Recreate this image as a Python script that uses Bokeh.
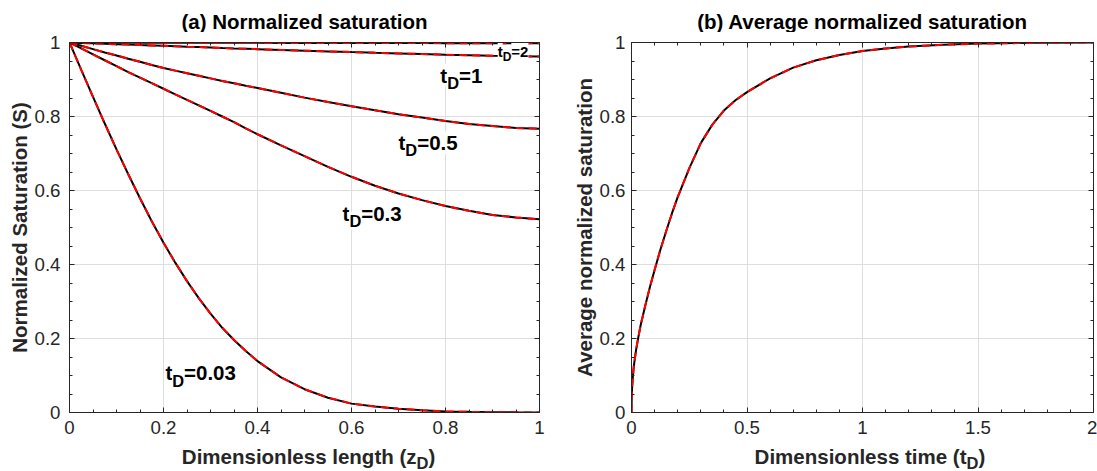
import numpy as np
from bokeh.plotting import figure
from bokeh.models import Label, LinearAxis, FixedTicker, NumeralTickFormatter, Range1d, CustomJSTickFormatter
from bokeh.layouts import row, column
from bokeh.embed import file_html
from bokeh.resources import INLINE

# ---------------- data ----------------
zD = [0.0, 0.025, 0.05, 0.075, 0.1, 0.125, 0.15, 0.175, 0.2, 0.225, 0.25, 0.275, 0.3,
      0.325, 0.35, 0.375, 0.4, 0.45, 0.5, 0.55, 0.6, 0.65, 0.7, 0.75, 0.8, 0.85, 0.9, 0.95, 1.0]
S_t003 = [1.0, 0.926, 0.853, 0.781, 0.711, 0.644, 0.579, 0.517, 0.459, 0.405, 0.355, 0.309, 0.267,
          0.229, 0.196, 0.166, 0.139, 0.095, 0.063, 0.040, 0.024, 0.016, 0.010, 0.006, 0.003, 0.0017,
          0.0009, 0.0004, 0.0002]
S_t03 = [1.0, 0.984, 0.968, 0.952, 0.936, 0.920, 0.905, 0.890, 0.875, 0.860, 0.845, 0.830, 0.815,
         0.800, 0.785, 0.768, 0.752, 0.722, 0.693, 0.664, 0.637, 0.613, 0.592, 0.574, 0.558, 0.545,
         0.534, 0.527, 0.522]
S_t05 = [1.0, 0.991, 0.982, 0.973, 0.965, 0.956, 0.948, 0.939, 0.931, 0.924, 0.917, 0.910, 0.903,
         0.896, 0.89, 0.883, 0.877, 0.864, 0.851, 0.839, 0.828, 0.817, 0.806, 0.797, 0.788, 0.780,
         0.774, 0.769, 0.767]
S_t1 = [1.0, 0.9988, 0.9977, 0.9966, 0.9955, 0.9943, 0.993, 0.992, 0.991, 0.990, 0.9887, 0.9876,
        0.9865, 0.9852, 0.984, 0.983, 0.982, 0.980, 0.978, 0.976, 0.974, 0.9722, 0.9705, 0.9688,
        0.967, 0.9655, 0.964, 0.963, 0.962]
S_t2 = [1.0, 0.99995, 0.9999, 0.99985, 0.9998, 0.9997, 0.9996, 0.99955, 0.9995, 0.99945, 0.9994,
        0.99935, 0.9993, 0.9992, 0.9991, 0.99905, 0.999, 0.9989, 0.9988, 0.9987, 0.9986, 0.9985,
        0.9984, 0.9984, 0.9983, 0.9983, 0.9982, 0.9982, 0.9982]

tD = [0.0, 0.001, 0.0025, 0.005, 0.01, 0.02, 0.03, 0.04, 0.06, 0.08, 0.1, 0.125, 0.15, 0.175,
      0.2, 0.25, 0.3, 0.35, 0.4, 0.45, 0.5, 0.6, 0.7, 0.8, 0.9, 1.0, 1.1, 1.2, 1.35, 1.5, 1.75, 2.0]
S_avg = [0.0, 0.04, 0.065, 0.09, 0.125, 0.17, 0.205, 0.237, 0.29, 0.34, 0.385, 0.44, 0.49, 0.538,
         0.582, 0.66, 0.728, 0.778, 0.816, 0.844, 0.866, 0.903, 0.932, 0.952, 0.966, 0.977, 0.984,
         0.989, 0.994, 0.997, 0.999, 1.0]

curve_labels = ["0.03", "0.3", "0.5", "1", "2"]

x1_ticks = [0, 0.2, 0.4, 0.6, 0.8, 1.0]
y_ticks = [0, 0.2, 0.4, 0.6, 0.8, 1.0]
x2_ticks = [0, 0.5, 1.0, 1.5, 2.0]

FONT = "Liberation Sans"
AX = "#262626"
TICK_FS = "18.7px"
LAB_FS = 20.5

W_BOLD = {"t": 0.333, "D": 0.722, ")": 0.333}


def style_axes(p, xt, xminor, yt, yminor, xstand, ystand):
    fmt = NumeralTickFormatter(format="0.[0]")
    bottom = p.xaxis[0]
    left = p.yaxis[0]
    bottom.ticker = FixedTicker(ticks=xt, minor_ticks=xminor)
    left.ticker = FixedTicker(ticks=yt, minor_ticks=yminor)
    bottom.formatter = fmt
    left.formatter = fmt
    blank = CustomJSTickFormatter(code="return '';")
    top = LinearAxis(ticker=FixedTicker(ticks=xt, minor_ticks=xminor), formatter=blank)
    right = LinearAxis(ticker=FixedTicker(ticks=yt, minor_ticks=yminor), formatter=blank)
    p.add_layout(top, "above")
    p.add_layout(right, "right")
    for ax in [bottom, left, top, right]:
        ax.axis_line_color = AX
        ax.axis_line_width = 1
        ax.major_tick_line_color = AX
        ax.minor_tick_line_color = AX
        ax.major_tick_in = 5
        ax.major_tick_out = 0
        ax.minor_tick_in = 3
        ax.minor_tick_out = 0
        ax.major_label_text_font = FONT
        ax.major_label_text_font_size = TICK_FS
        ax.major_label_text_color = AX
    bottom.major_label_standoff = xstand
    left.major_label_standoff = ystand
    for ax in [top, right]:
        ax.major_label_text_font_size = "1px"
        ax.major_label_standoff = 0
        ax.axis_label_standoff = 0
    p.xgrid.ticker = FixedTicker(ticks=xt)
    p.ygrid.ticker = FixedTicker(ticks=yt)
    p.xgrid.grid_line_color = "#dedede"
    p.ygrid.grid_line_color = "#dedede"
    p.outline_line_color = None
    return bottom, left


def lab(p, x, y, text, size, align="left", x_offset=0, bg=None, color="#000000"):
    p.add_layout(Label(x=x, y=y, text=text, text_font=FONT, text_font_size=f"{size}px",
                       text_font_style="bold", text_align=align,
                       text_baseline="middle", x_offset=x_offset,
                       text_color=color, background_fill_color=bg))


def sub_label(p, x, y, pre, sub, post, size, sub_size, fy, bg=None, color="#000000"):
    w_pre = sum(W_BOLD.get(c, 0.556) for c in pre) * size
    w_sub = sum(W_BOLD.get(c, 0.556) for c in sub) * sub_size
    lab(p, x, y, pre, size, x_offset=0, bg=bg, color=color)
    lab(p, x, y - 0.38 * size * fy, sub, sub_size, x_offset=w_pre, bg=bg, color=color)
    lab(p, x, y, post, size, x_offset=w_pre + w_sub, bg=bg, color=color)


def set_ylabel(ax, text, standoff):
    ax.axis_label = text
    ax.axis_label_text_font = FONT
    ax.axis_label_text_font_size = f"{LAB_FS}px"
    ax.axis_label_text_font_style = "bold"
    ax.axis_label_text_color = AX
    ax.axis_label_standoff = standoff


def strip(width, height):
    q = figure(width=width, height=height, x_range=Range1d(0, width), y_range=Range1d(0, height),
               x_axis_type=None, y_axis_type=None, min_border=0, output_backend="svg",
               toolbar_location=None)
    q.outline_line_color = None
    q.grid.visible = False
    return q


def xlabel_strip(width, height, anchor, pre, sub, post):
    q = strip(width, height)
    w_sub = sum(W_BOLD.get(c, 0.556) for c in sub) * 16.5
    lab(q, anchor, 15.5, pre, LAB_FS, align="right", color=AX)
    lab(q, anchor, 8.5, sub, 16.5, color=AX)
    lab(q, anchor + w_sub, 15.5, post, LAB_FS, color=AX)
    return q


def title_strip(width, height, cx, text):
    q = strip(width, height)
    lab(q, cx, 11.5, text, LAB_FS, align="center", color="#000000")
    return q


H_TOP, H_MAIN, H_LAB = 32, 409, 30

# ---------------- panel (a) ----------------
p1 = figure(width=556, height=H_MAIN, x_range=Range1d(0, 1), y_range=Range1d(0, 1),
            output_backend="svg", toolbar_location=None, title=None,
            min_border_left=69, min_border_right=17, min_border_top=3, min_border_bottom=29)
b1, l1 = style_axes(p1, x1_ticks, [i * 0.05 for i in range(21)], y_ticks,
                    [i * 0.05 for i in range(21)], 8, 9)
set_ylabel(l1, "Normalized Saturation (S)", 1)
fy1 = 1 / 373.0

for S in [S_t003, S_t03, S_t05, S_t1, S_t2]:
    p1.line(zD, S, line_color="black", line_width=2)
    p1.line(zD, S, line_color="red", line_width=2, line_dash="8 5")

pos1 = [(0.204, 0.107, 20.5), (0.581, 0.539, 20.5), (0.70, 0.729, 20.5), (0.789, 0.912, 20.5),
        (0.911, 0.976, 15)]
for name, (x, y, sz) in zip(curve_labels, pos1):
    sub_label(p1, x, y, "t", "D", "=" + name, sz, round(sz * 0.8, 1), fy1, bg="white")

# ---------------- panel (b) ----------------
p2 = figure(width=541, height=H_MAIN, x_range=Range1d(0, 2), y_range=Range1d(0, 1),
            output_backend="svg", toolbar_location=None, title=None,
            min_border_left=75, min_border_right=4, min_border_top=10, min_border_bottom=28)
b2, l2 = style_axes(p2, x2_ticks, [i * 0.1 for i in range(21)], y_ticks,
                    [i * 0.05 for i in range(21)], 8, 6)
set_ylabel(l2, "Average normalized saturation", 1)

p2.line(tD, S_avg, line_color="black", line_width=2)
p2.line(tD, S_avg, line_color="red", line_width=2, line_dash="8 5")

t1 = title_strip(556, H_TOP, 304, "(a) Normalized saturation")
t2 = title_strip(541, H_TOP, 306, "(b) Average normalized saturation")
q1 = xlabel_strip(556, H_LAB, 416, "Dimensionless length (z", "D", ")")
q2 = xlabel_strip(541, H_LAB, 410, "Dimensionless time (t", "D", ")")

layout = column(row(t1, t2), row(p1, p2), row(q1, q2))
open("out.html", "w").write(file_html(layout, INLINE))
